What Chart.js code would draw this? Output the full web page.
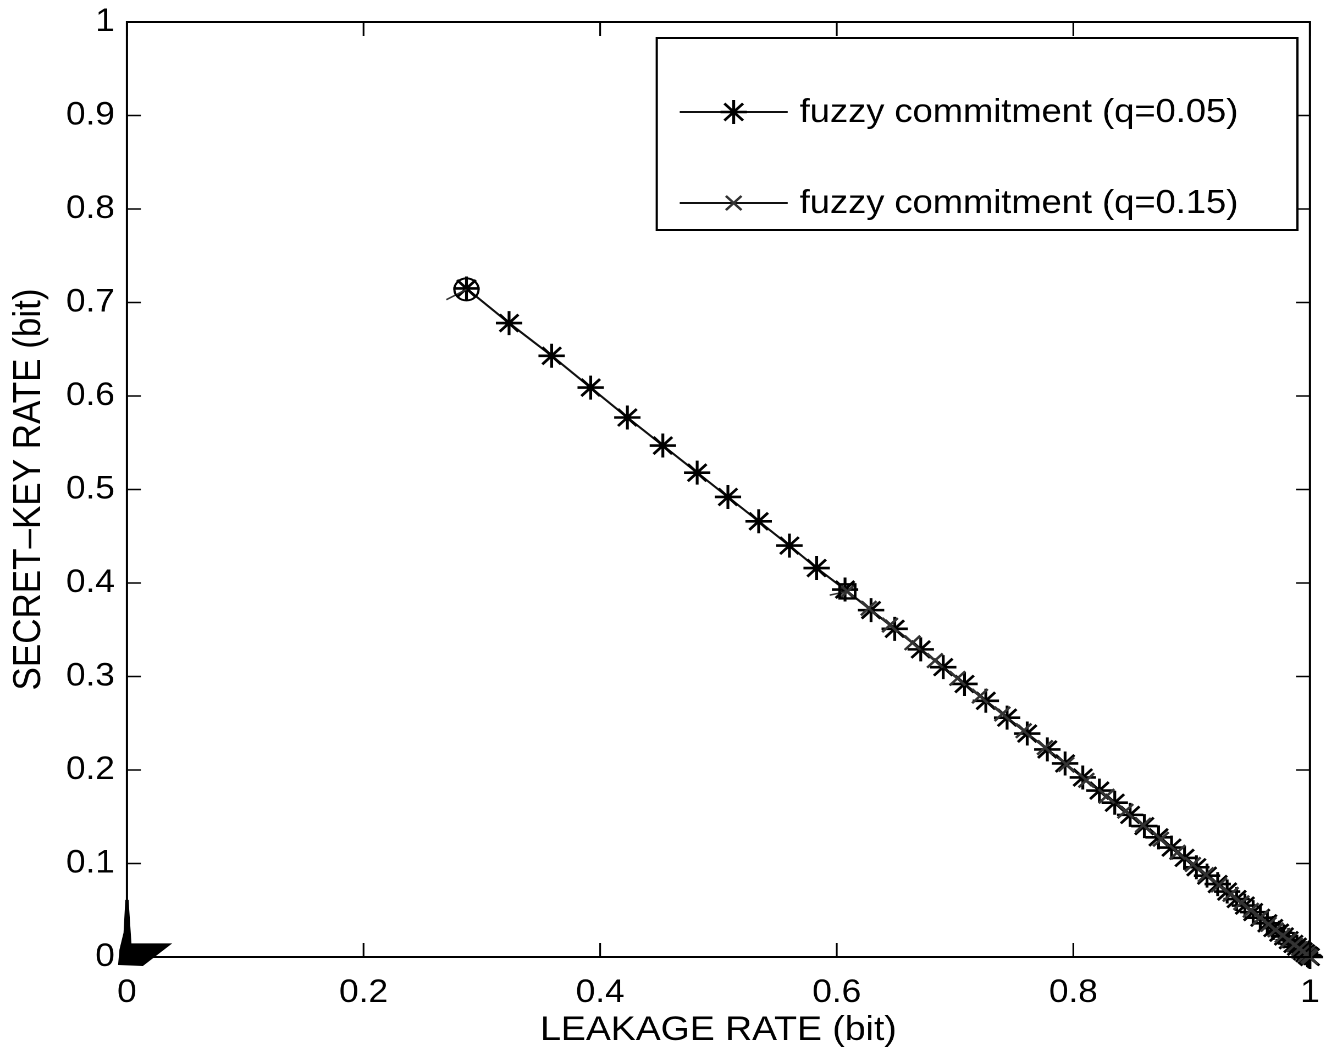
<!DOCTYPE html>
<html><head><meta charset="utf-8">
<script src="https://cdn.jsdelivr.net/npm/chart.js@4.4.1/dist/chart.umd.min.js"></script>
<style>
html,body{margin:0;padding:0;background:#fff;overflow:hidden;}
#wrap{width:1206px;height:1059px;transform:scaleX(1.0995);transform-origin:0 0;}
canvas{display:block;}
</style></head><body>
<div id="wrap"><canvas id="c" width="1206" height="1059" style="width:1206px;height:1059px"></canvas></div>
<script>
// ---- data ----
const leakQ005 = [0.287,0.323,0.359,0.392,0.423,0.453,0.482,0.508,0.534,0.560,0.583,0.607,0.629,0.649,0.671,0.690,0.708,0.726,0.744,0.761,0.778,0.793,0.808,0.822,0.835,0.848,0.860,0.872,0.883,0.894,0.904,0.913,0.922,0.930,0.938,0.945,0.952,0.958,0.964,0.969,0.974,0.978,0.982,0.986,0.989,0.992,0.994,0.996,0.998,0.999,1.000];
const keyQ005  = [0.715,0.678,0.643,0.609,0.577,0.547,0.518,0.492,0.466,0.440,0.416,0.393,0.371,0.351,0.329,0.310,0.292,0.274,0.256,0.239,0.222,0.207,0.192,0.178,0.165,0.152,0.140,0.128,0.117,0.106,0.096,0.087,0.078,0.070,0.062,0.055,0.048,0.042,0.036,0.031,0.026,0.022,0.018,0.014,0.011,0.008,0.006,0.004,0.002,0.001,0.000];
const leakQ015 = [0.609,0.627,0.645,0.664,0.683,0.702,0.721,0.740,0.758,0.776,0.794,0.811,0.828,0.844,0.859,0.874,0.888,0.901,0.912,0.923,0.933,0.942,0.950,0.958,0.965,0.971,0.977,0.982,0.987,0.991,0.994,0.997,0.999,1.000];
const keyQ015  = [0.391,0.373,0.355,0.336,0.317,0.298,0.279,0.260,0.242,0.224,0.206,0.189,0.172,0.156,0.141,0.126,0.112,0.099,0.088,0.077,0.067,0.058,0.050,0.042,0.035,0.029,0.023,0.018,0.013,0.009,0.006,0.003,0.001,0.000];
const leakCircle = [0.270,0.287];
const keyCircle  = [0.703,0.714];
const leakSquare = [0.594,0.609];
const keySquare  = [0.387,0.391];
const leakOrigin = [0.000,0.0025,0.0345,0.013,-0.0060,-0.0050,-0.0015,0.000];
const keyOrigin  = [0.061,0.013,0.013,-0.008,-0.0070,0.0075,0.0257,0.061];
const xTickStep = 0.2;
const yTickStep = 0.1;
const seriesLabels = ['fuzzy commitment (q=0.05)','fuzzy commitment (q=0.15)'];
const xTitle = 'LEAKAGE RATE (bit)';
const yTitle = 'SECRET\u2013KEY RATE (bit)';

const pts = (xs, ys) => xs.map((x, i) => ({x, y: ys[i]}));
const FAM = '"Liberation Sans", Arial, Helvetica, sans-serif';
const fmt = v => String(Math.round(v * 10) / 10);

function drawMarker(ctx, style, x, y, r, color, lw){
  ctx.save();
  ctx.strokeStyle = color; ctx.lineWidth = lw;
  ctx.beginPath();
  const d = r * Math.SQRT1_2;
  if (style === 'star' || style === 'cross'){
    ctx.moveTo(x - r, y); ctx.lineTo(x + r, y);
    ctx.moveTo(x, y - r); ctx.lineTo(x, y + r);
  }
  if (style === 'star' || style === 'crossRot'){
    ctx.moveTo(x - d, y - d); ctx.lineTo(x + d, y + d);
    ctx.moveTo(x - d, y + d); ctx.lineTo(x + d, y - d);
  }
  ctx.stroke();
  ctx.restore();
}

const framePlugin = {
  id: 'frame',
  afterDatasetsDraw(chart){
    const {ctx, chartArea: a, scales: {x, y}} = chart;
    ctx.save();
    // filled cluster at the origin, from the origin dataset through the scales
    const od = chart.data.datasets[0].data;
    ctx.fillStyle = '#000';
    ctx.beginPath();
    od.forEach((p, i) => {
      const px = x.getPixelForValue(p.x), py = y.getPixelForValue(p.y);
      if (i === 0) ctx.moveTo(px, py); else ctx.lineTo(px, py);
    });
    ctx.closePath();
    ctx.fill();
    ctx.strokeStyle = '#000';
    ctx.lineWidth = 2;
    ctx.strokeRect(a.left, a.top, a.right - a.left, a.bottom - a.top);
    ctx.lineWidth = 1.6;
    ctx.beginPath();
    const tx = 14, ty = 12.7;
    x.ticks.forEach(t => {
      const px = x.getPixelForValue(t.value);
      ctx.moveTo(px, a.bottom); ctx.lineTo(px, a.bottom - tx);
      ctx.moveTo(px, a.top); ctx.lineTo(px, a.top + tx);
    });
    y.ticks.forEach(t => {
      const py = y.getPixelForValue(t.value);
      ctx.moveTo(a.left, py); ctx.lineTo(a.left + ty, py);
      ctx.moveTo(a.right, py); ctx.lineTo(a.right - ty, py);
    });
    ctx.stroke();
    ctx.restore();
  },
  afterDraw(chart){
    const ctx = chart.ctx;
    const box = {l: 597.3, t: 38, r: 1180, b: 230};
    ctx.save();
    ctx.fillStyle = '#fff';
    ctx.fillRect(box.l, box.t, box.r - box.l, box.b - box.t);
    ctx.strokeStyle = '#000';
    ctx.lineWidth = 2;
    ctx.strokeRect(box.l, box.t, box.r - box.l, box.b - box.t);
    const rows = [112, 203];
    const dsIdx = [1, 2];
    rows.forEach((ry, i) => {
      const ds = chart.data.datasets[dsIdx[i]];
      ctx.strokeStyle = ds.borderColor;
      ctx.lineWidth = ds.borderWidth;
      ctx.beginPath(); ctx.moveTo(618.2, ry); ctx.lineTo(716.4, ry); ctx.stroke();
      drawMarker(ctx, ds.pointStyle, 667.3, ry, ds.pointRadius, ds.pointBorderColor, ds.pointBorderWidth);
      ctx.fillStyle = '#000';
      ctx.font = '33px ' + FAM;
      ctx.textBaseline = 'middle';
      ctx.textAlign = 'left';
      ctx.fillText(ds.label, 727.3, ry + 1);
    });
    ctx.restore();
  }
};

new Chart(document.getElementById('c'), {
  type: 'scatter',
  data: {
    datasets: [
      {label: 'origin', data: pts(leakOrigin, keyOrigin), showLine: true, fill: false,
       borderColor: '#000', borderWidth: 3, pointRadius: 0, clip: false, order: 5},
      {label: seriesLabels[0], data: pts(leakQ005, keyQ005), showLine: true,
       borderColor: '#111', borderWidth: 2, pointStyle: 'star', pointRadius: 12,
       pointBorderColor: '#000', pointBorderWidth: 2.6, clip: false, order: 2},
      {label: seriesLabels[1], data: pts(leakQ015, keyQ015), showLine: true,
       borderColor: '#111', borderWidth: 2, pointStyle: 'crossRot', pointRadius: 10,
       pointBorderColor: '#333', pointBorderWidth: 2.4, clip: false, order: 1},
      {label: 'circle', data: pts(leakCircle, keyCircle), showLine: true,
       borderColor: '#333', borderWidth: 1.5, pointStyle: 'circle', pointRadius: [0, 11],
       pointBackgroundColor: 'rgba(0,0,0,0)', pointBorderColor: '#000', pointBorderWidth: 2, clip: false, order: 0},
      {label: 'square', data: pts(leakSquare, keySquare), showLine: true,
       borderColor: '#333', borderWidth: 1.5, pointStyle: 'rect', pointRadius: [0, 10],
       pointBackgroundColor: 'rgba(0,0,0,0)', pointBorderColor: '#000', pointBorderWidth: 2.4, clip: false, order: 0}
    ]
  },
  options: {
    responsive: false,
    animation: false,
    devicePixelRatio: 2,
    layout: {padding: {top: 22, right: 9.6, left: 0, bottom: 0}},
    plugins: {legend: {display: false}, tooltip: {enabled: false}},
    elements: {line: {tension: 0}},
    scales: {
      x: {
        type: 'linear', min: 0, max: 1,
        ticks: {stepSize: xTickStep, color: '#000', font: {size: 32, family: FAM}, padding: 9, maxRotation: 0, callback: fmt},
        grid: {display: false}, border: {display: false},
        title: {display: true, text: xTitle, color: '#000', font: {size: 34, family: FAM}, padding: {top: 0, bottom: 8}},
        afterFit(s){ s.height = 102; s.paddingLeft = 0; s.paddingRight = 0; }
      },
      y: {
        type: 'linear', min: 0, max: 1,
        ticks: {stepSize: yTickStep, color: '#000', font: {size: 32, family: FAM}, padding: 3, callback: fmt},
        grid: {display: false}, border: {display: false},
        title: {display: true, text: yTitle, color: '#000', font: {size: 35, family: FAM}, padding: {top: 6, bottom: 0}},
        afterFit(s){ s.width = 115.45; s.paddingTop = 0; s.paddingBottom = 0; }
      }
    }
  },
  plugins: [framePlugin]
});
</script>
</body></html>
